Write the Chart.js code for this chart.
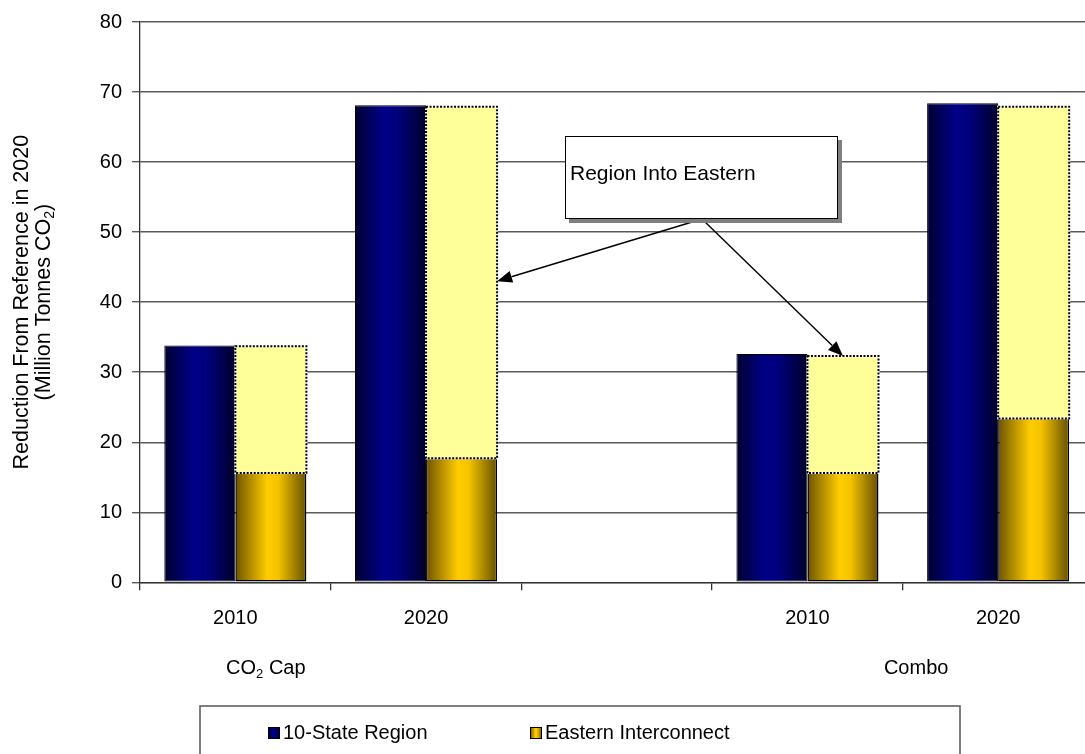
<!DOCTYPE html>
<html>
<head>
<meta charset="utf-8">
<script src="https://cdn.jsdelivr.net/npm/chart.js@4.4.1/dist/chart.umd.min.js"></script>
<style>
  html, body { margin: 0; padding: 0; background: #fff; overflow: hidden; width: 1085px; height: 754px; }
  #wrap { position: absolute; left: 0; top: 0; width: 1100px; height: 780px; }
  canvas { display: block; }
</style>
</head>
<body>
<div id="wrap"><canvas id="c" width="1100" height="780"></canvas></div>
<script>
// ---- data ----
const categories = ['2010', '2020', '', '2010', '2020'];
const scenarioLabels = ['CO₂ Cap', 'Combo'];
const stateRegion = [33.8, 68.1, null, 32.6, 68.4];          // 10-State Region
const easternInterconnect = [15.6, 17.7, null, 15.6, 23.4];  // Eastern Interconnect
const regionIntoEastern = [18.1, 50.2, null, 16.7, 44.5];    // leakage share stacked on Eastern
const yTitleLines = ['Reduction From Reference in 2020', '(Million Tonnes CO₂)'];
const calloutText = 'Region Into Eastern';
const calloutArrowValue = 43;   // where the left arrow meets the CO₂ Cap 2020 bar

const FONT = "'Liberation Sans', Arial, Helvetica, sans-serif";
const FS = 20;
Chart.defaults.font.family = FONT;
Chart.defaults.font.size = FS;
Chart.defaults.color = '#000';

const blueStops = [[0, '#000030'], [0.4, '#000088'], [0.6, '#00007c'], [1, '#00002a']];
const goldStops = [[0, '#6e5400'], [0.45, '#ffcc00'], [0.6, '#f5c400'], [1, '#665000']];

function makeGradient(ctx, x0, x1, stops) {
  const g = ctx.createLinearGradient(x0, 0, x1, 0);
  stops.forEach(s => g.addColorStop(s[0], s[1]));
  return g;
}

// text with a subscript "2" wherever ₂ appears
function drawRich(ctx, text, x, y, size, align) {
  const parts = text.split('₂');
  const subSize = Math.round(size * 0.65);
  const normal = size + 'px ' + FONT;
  const small = subSize + 'px ' + FONT;
  let total = 0;
  parts.forEach((p, i) => {
    ctx.font = normal; total += ctx.measureText(p).width;
    if (i < parts.length - 1) { ctx.font = small; total += ctx.measureText('2').width; }
  });
  let cx = align === 'center' ? x - total / 2 : (align === 'right' ? x - total : x);
  ctx.textAlign = 'left';
  ctx.textBaseline = 'middle';
  parts.forEach((p, i) => {
    ctx.font = normal; ctx.fillText(p, cx, y); cx += ctx.measureText(p).width;
    if (i < parts.length - 1) {
      ctx.font = small; ctx.fillText('2', cx, y + size * 0.3); cx += ctx.measureText('2').width;
    }
  });
}

// gradient fills on the bar elements
const barGradients = {
  id: 'barGradients',
  beforeDatasetsDraw(chart) {
    const ctx = chart.ctx;
    chart.data.datasets.forEach((ds, di) => {
      if (!ds.gradientStops) return;
      chart.getDatasetMeta(di).data.forEach(el => {
        const { x, width } = el.getProps(['x', 'width'], true);
        if (!isFinite(x) || !isFinite(width)) return;
        const g = makeGradient(ctx, x - width / 2, x + width / 2, ds.gradientStops);
        el.options = Object.assign({}, el.options, { backgroundColor: g });
      });
    });
  }
};

// dotted outline around the stacked leakage segment
const dottedOutline = {
  id: 'dottedOutline',
  afterDatasetsDraw(chart) {
    const ctx = chart.ctx;
    chart.data.datasets.forEach((ds, di) => {
      if (!ds.dotted) return;
      chart.getDatasetMeta(di).data.forEach((el, i) => {
        if (ds.data[i] == null) return;
        const { x, y, base, width } = el.getProps(['x', 'y', 'base', 'width'], true);
        const l = x - width / 2, r = x + width / 2;
        ctx.save();
        ctx.lineWidth = 2;
        ctx.strokeStyle = '#fff';
        ctx.strokeRect(l, y, r - l, base - y);
        ctx.strokeStyle = '#000';
        ctx.setLineDash([2, 1.5]);
        ctx.strokeRect(l, y, r - l, base - y);
        ctx.restore();
      });
    });
  }
};

// axis title, group labels, callout and legend
const decorations = {
  id: 'decorations',
  afterDraw(chart) {
    const ctx = chart.ctx;
    const area = chart.chartArea;
    const xs = chart.scales.x, ys = chart.scales.y;
    ctx.save();
    ctx.fillStyle = '#000';

    // rotated y title
    const midY = (area.top + area.bottom) / 2;
    [22, 44].forEach((cx, i) => {
      ctx.save();
      ctx.translate(cx, midY);
      ctx.rotate(-Math.PI / 2);
      drawRich(ctx, yTitleLines[i], 0, 0, 21.5, 'center');
      ctx.restore();
    });

    // scenario labels under the years
    const catW = xs.getPixelForValue(1) - xs.getPixelForValue(0);
    drawRich(ctx, scenarioLabels[0], xs.getPixelForValue(0) + catW * 0.16, 668, FS, 'center');
    drawRich(ctx, scenarioLabels[1], xs.getPixelForValue(4) - catW * 0.43, 668, FS, 'center');

    // callout arrows
    const meta = chart.getDatasetMeta(2);
    const b1 = meta.data[1].getProps(['x', 'width'], true);
    const b3 = meta.data[3].getProps(['x', 'y'], true);
    const box = { l: 565, t: 136, r: 838, b: 219 };
    const ox = 702, oy = box.b;
    const tips = [
      [b1.x + b1.width / 2, ys.getPixelForValue(calloutArrowValue)],
      [b3.x, b3.y]
    ];
    tips.forEach(([tx, ty]) => {
      const ang = Math.atan2(ty - oy, tx - ox);
      const len = 15, hw = 6;
      const bx = tx - Math.cos(ang) * len, by = ty - Math.sin(ang) * len;
      ctx.strokeStyle = '#000';
      ctx.lineWidth = 1.4;
      ctx.beginPath(); ctx.moveTo(ox, oy); ctx.lineTo(bx, by); ctx.stroke();
      ctx.beginPath();
      ctx.moveTo(tx, ty);
      ctx.lineTo(bx + Math.sin(ang) * hw, by - Math.cos(ang) * hw);
      ctx.lineTo(bx - Math.sin(ang) * hw, by + Math.cos(ang) * hw);
      ctx.closePath();
      ctx.fillStyle = '#000';
      ctx.fill();
    });

    // callout box with shadow
    ctx.fillStyle = '#7f7f7f';
    ctx.fillRect(box.l + 4, box.t + 4, box.r - box.l, box.b - box.t);
    ctx.fillStyle = '#fff';
    ctx.fillRect(box.l, box.t, box.r - box.l, box.b - box.t);
    ctx.strokeStyle = '#000';
    ctx.lineWidth = 1;
    ctx.strokeRect(box.l + 0.5, box.t + 0.5, box.r - box.l - 1, box.b - box.t - 1);
    ctx.fillStyle = '#000';
    drawRich(ctx, calloutText, box.l + 5, 174, 21, 'left');

    // legend
    const lg = { l: 200, t: 706, r: 960, b: 800 };
    ctx.strokeStyle = '#555';
    ctx.lineWidth = 1.5;
    ctx.strokeRect(lg.l, lg.t, lg.r - lg.l, lg.b - lg.t);
    const items = [0, 1];
    const itemX = [lg.l + 68, lg.l + 330];
    const cy = 733;
    items.forEach((di, k) => {
      const ds = chart.data.datasets[di];
      const sx = itemX[k], sz = 12;
      ctx.fillStyle = makeGradient(ctx, sx, sx + sz, ds.gradientStops);
      ctx.fillRect(sx, cy - sz / 2, sz, sz);
      ctx.strokeStyle = '#000';
      ctx.lineWidth = 1;
      ctx.strokeRect(sx + 0.5, cy - sz / 2 + 0.5, sz - 1, sz - 1);
      ctx.fillStyle = '#000';
      drawRich(ctx, ds.label, sx + sz + 3, cy, FS, 'left');
    });
    ctx.restore();
  }
};

new Chart(document.getElementById('c'), {
  type: 'bar',
  data: {
    labels: categories,
    datasets: [
      {
        label: '10-State Region', data: stateRegion, stack: 'region',
        gradientStops: blueStops, backgroundColor: () => '#000080',
        borderColor: '#000', borderWidth: 1, borderSkipped: false
      },
      {
        label: 'Eastern Interconnect', data: easternInterconnect, stack: 'eastern',
        gradientStops: goldStops, backgroundColor: () => '#ffcc00',
        borderColor: '#000', borderWidth: 1.5, borderSkipped: 'end'
      },
      {
        label: 'Region Into Eastern', data: regionIntoEastern, stack: 'eastern',
        backgroundColor: '#ffff99', borderWidth: 0, dotted: true
      }
    ]
  },
  options: {
    responsive: false,
    animation: false,
    devicePixelRatio: 1,
    datasets: { bar: { categoryPercentage: 0.745, barPercentage: 1 } },
    layout: { padding: { top: 20.5, right: 6.5, left: 0, bottom: 0 } },
    plugins: { legend: { display: false }, tooltip: { enabled: false } },
    scales: {
      x: {
        stacked: true,
        grid: { offset: true, drawOnChartArea: false, tickLength: 8, color: '#333', lineWidth: 1.3 },
        border: { color: '#333', width: 1.3 },
        ticks: { padding: 16, color: '#000', font: { size: FS } },
        afterFit(s) { s.height = 780 - 582.3; }
      },
      y: {
        stacked: true, min: 0, max: 80,
        ticks: { stepSize: 10, padding: 10, color: '#000', font: { size: FS } },
        grid: { tickLength: 8, color: '#5a5a5a', lineWidth: 1.4 },
        border: { color: '#333', width: 1.3 },
        afterFit(s) { s.width = 140; }
      }
    }
  },
  plugins: [barGradients, dottedOutline, decorations]
});
</script>
</body>
</html>
